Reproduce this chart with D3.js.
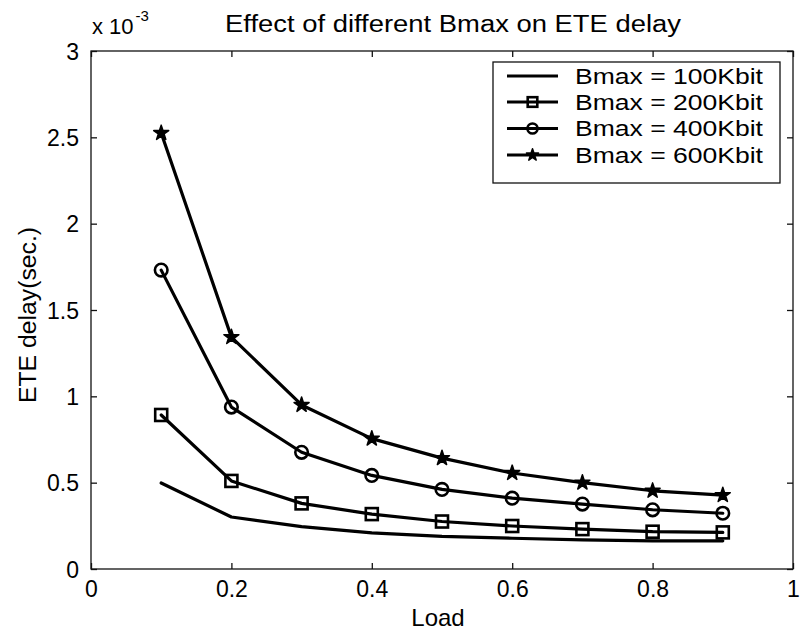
<!DOCTYPE html>
<html>
<head>
<meta charset="utf-8">
<script src="https://cdn.jsdelivr.net/npm/d3@7"></script>
<style>
  html, body { margin: 0; padding: 0; background: #fff; }
  svg { display: block; }
  text { font-family: "Liberation Sans", Arial, Helvetica, sans-serif; fill: #000; }
</style>
</head>
<body>
<svg id="chart" width="802" height="636"></svg>
<script>
// ---- data ----
const loads = [0.1, 0.2, 0.3, 0.4, 0.5, 0.6, 0.7, 0.8, 0.9];
const seriesNames = ["Bmax = 100Kbit", "Bmax = 200Kbit", "Bmax = 400Kbit", "Bmax = 600Kbit"];
const seriesMarkers = ["none", "square", "circle", "star"];
// ETE delay in units of 1e-3 s
const bmax100 = [0.498, 0.301, 0.245, 0.209, 0.189, 0.178, 0.169, 0.163, 0.163];
const bmax200 = [0.892, 0.510, 0.380, 0.318, 0.275, 0.249, 0.231, 0.216, 0.212];
const bmax400 = [1.731, 0.938, 0.676, 0.542, 0.461, 0.410, 0.376, 0.343, 0.323];
const bmax600 = [2.525, 1.343, 0.950, 0.755, 0.642, 0.556, 0.500, 0.453, 0.428];
const xTicks = [0, 0.2, 0.4, 0.6, 0.8, 1];
const yTicks = [0, 0.5, 1, 1.5, 2, 2.5, 3];
const titleText = "Effect of different Bmax on ETE delay";
const xLabelText = "Load";
const yLabelText = "ETE delay(sec.)";

const seriesValues = [bmax100, bmax200, bmax400, bmax600];

// ---- layout ----
const svg = d3.select("#chart");
const L = 91, R = 793, T = 51, B = 569;
const x = d3.scaleLinear().domain([0, 1]).range([L, R]);
const y = d3.scaleLinear().domain([0, 3]).range([B, T]);

const axisColor = "#111";
svg.append("rect").attr("x", L).attr("y", T).attr("width", R - L).attr("height", B - T)
  .attr("fill", "none").attr("stroke", axisColor).attr("stroke-width", 1.3);

const tickLen = 6;
const xAxisB = d3.axisBottom(x).tickValues(xTicks).tickSize(-tickLen).tickPadding(12)
  .tickFormat(d3.format("~g"));
const gxb = svg.append("g").attr("transform", `translate(0,${B})`).call(xAxisB);
const gxt = svg.append("g").attr("transform", `translate(0,${T})`)
  .call(d3.axisTop(x).tickValues(xTicks).tickSize(-tickLen).tickFormat(""));
const yAxisL = d3.axisLeft(y).tickValues(yTicks).tickSize(-tickLen).tickPadding(12)
  .tickFormat(d3.format("~g"));
const gyl = svg.append("g").attr("transform", `translate(${L},0)`).call(yAxisL);
const gyr = svg.append("g").attr("transform", `translate(${R},0)`)
  .call(d3.axisRight(y).tickValues(yTicks).tickSize(-tickLen).tickFormat(""));

[gxb, gxt, gyl, gyr].forEach(g => {
  g.select(".domain").remove();
  g.selectAll(".tick line").attr("stroke", axisColor).attr("stroke-width", 1.3);
  g.selectAll("text").attr("font-size", 23).attr("fill", "#000")
    .style("font-family", '"Liberation Sans", Arial, sans-serif');
});
gxb.selectAll(".tick text").attr("dy", "0.71em");
gyl.selectAll(".tick text").attr("dy", "0.36em");

// exponent label
const exp = svg.append("text").attr("x", 92).attr("y", 34).attr("font-size", 22);
exp.append("tspan").text("x 10");
exp.append("tspan").attr("dy", -13).attr("dx", 2).attr("font-size", 15).text("-3");

// title
svg.append("text").attr("x", 225).attr("y", 32).attr("font-size", 23)
  .attr("textLength", 456).attr("lengthAdjust", "spacingAndGlyphs").text(titleText);

// x label
svg.append("text").attr("x", 438).attr("y", 626).attr("text-anchor", "middle")
  .attr("font-size", 24).text(xLabelText);

// y label
svg.append("text").attr("transform", "translate(36,315) rotate(-90)")
  .attr("text-anchor", "middle").attr("font-size", 23)
  .attr("textLength", 176).attr("lengthAdjust", "spacingAndGlyphs").text(yLabelText);

// ---- series ----
const line = d3.line().x((d, i) => x(loads[i])).y(d => y(d));
const lineW = 3.2;

function drawMarker(g, type, cx, cy, s) {
  s = s || 1;
  if (type === "square") {
    g.append("rect").attr("x", cx - 6 * s).attr("y", cy - 6 * s).attr("width", 12 * s).attr("height", 12 * s)
      .attr("fill", "none").attr("stroke", "#000").attr("stroke-width", 2.6);
  } else if (type === "circle") {
    g.append("circle").attr("cx", cx).attr("cy", cy).attr("r", 6.3 * s)
      .attr("fill", "none").attr("stroke", "#000").attr("stroke-width", 2.6);
  } else if (type === "star") {
    g.append("path").attr("d", d3.symbol().type(d3.symbolStar).size(70 * s * s)())
      .attr("transform", `translate(${cx},${cy})`)
      .attr("fill", "#000").attr("stroke", "#000").attr("stroke-width", 1.5)
      .attr("stroke-linejoin", "round");
  }
}

const plot = svg.append("g");
seriesValues.forEach((vals, si) => {
  plot.append("path").datum(vals).attr("d", line)
    .attr("fill", "none").attr("stroke", "#000").attr("stroke-width", lineW)
    .attr("stroke-linejoin", "round").attr("stroke-linecap", "round");
  vals.forEach((v, i) => drawMarker(plot, seriesMarkers[si], x(loads[i]), y(v)));
});

// ---- legend ----
const lg = svg.append("g");
const lgX0 = 493, lgX1 = 780, lgY0 = 62, lgY1 = 183;
lg.append("rect").attr("x", lgX0).attr("y", lgY0).attr("width", lgX1 - lgX0).attr("height", lgY1 - lgY0)
  .attr("fill", "#fff").attr("stroke", axisColor).attr("stroke-width", 1.3);
const rowY = [76, 102, 128.5, 155];
seriesNames.forEach((name, i) => {
  const ry = rowY[i];
  lg.append("line").attr("x1", 507).attr("x2", 558).attr("y1", ry).attr("y2", ry)
    .attr("stroke", "#000").attr("stroke-width", lineW);
  drawMarker(lg, seriesMarkers[i], 532.5, ry, 0.8);
  lg.append("text").attr("x", 575).attr("y", ry).attr("dy", "0.36em").attr("font-size", 22)
    .attr("textLength", 188).attr("lengthAdjust", "spacingAndGlyphs").text(name);
});
</script>
</body>
</html>
